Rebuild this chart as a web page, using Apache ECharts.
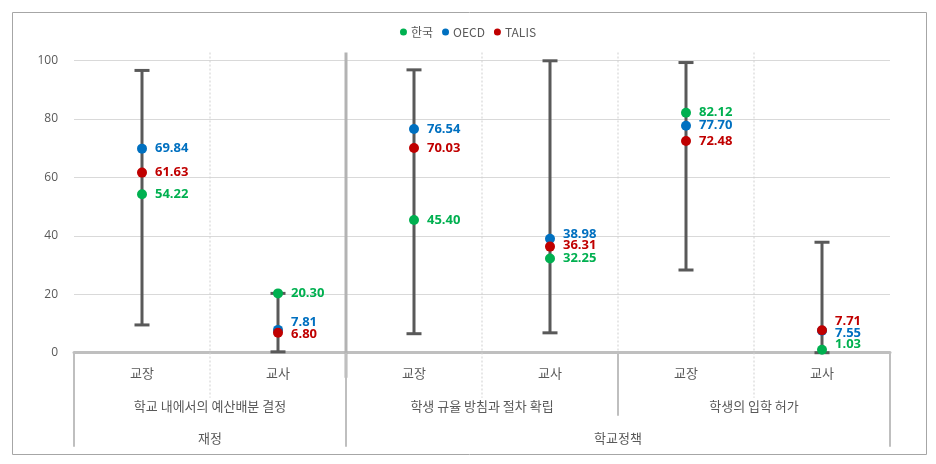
<!DOCTYPE html>
<html><head><meta charset="utf-8">
<script src="https://cdn.jsdelivr.net/npm/echarts@6/dist/echarts.min.js"></script>
<style>html,body{margin:0;padding:0;background:#fff}#c{width:936px;height:464px}</style>
</head><body><div id="c"></div>
<script>
const categories = ['교장', '교사', '교장', '교사', '교장', '교사'];
const level2Labels = ['학교 내에서의 예산배분 결정', '학생 규율 방침과 절차 확립', '학생의 입학 허가'];
const level2Span = [2, 2, 2];
const level3Labels = ['재정', '학교정책'];
const level3Span = [2, 4];
const rangeLow = [9.5, 0.3, 6.5, 6.8, 28.3, 0.0];
const rangeHigh = [96.6, 20.3, 96.8, 99.9, 99.3, 37.8];
const korea = [54.22, 20.30, 45.40, 32.25, 82.12, 1.03];
const oecd = [69.84, 7.81, 76.54, 38.98, 77.70, 7.55];
const talis = [61.63, 6.80, 70.03, 36.31, 72.48, 7.71];
const yTicks = [0, 20, 40, 60, 80, 100];

const seriesNames = ['한국', 'OECD', 'TALIS'];
const seriesColors = ['#00b050', '#0070c0', '#c00000'];
const seriesValues = [korea, oecd, talis];

const chart = echarts.init(document.getElementById('c'));
const FONT = '"Open Sans", "Noto Sans CJK KR", sans-serif';
const KFONT = '"Noto Sans CJK KR", "Open Sans", sans-serif';
const WH = '#595959';

function scatterSeries(idx, offsets) {
  return {
    name: seriesNames[idx], type: 'scatter', z: 5,
    symbol: 'circle', symbolSize: 10,
    itemStyle: { color: seriesColors[idx], opacity: 1 },
    data: seriesValues[idx].map((v, i) => ({
      value: [i, v],
      label: { offset: [0, offsets ? offsets[idx][i] : 0] }
    })),
    label: {
      show: true, position: 'right', distance: 8,
      formatter: p => p.value[1].toFixed(2),
      color: seriesColors[idx], fontFamily: FONT, fontWeight: 'bold', fontSize: 13
    },
    emphasis: { disabled: true }
  };
}

function buildOption(offsets) {
  return {
    animation: false,
    textStyle: { fontFamily: FONT },
    legend: {
      top: 21, left: 'center',
      data: seriesNames.map((n, i) => ({ name: n, icon: 'circle', itemStyle: { color: seriesColors[i] } })),
      itemWidth: 7, itemHeight: 7, itemGap: 9,
      textStyle: { color: WH, fontSize: 12, fontFamily: KFONT, padding: [0, 0, 0, -1] }
    },
    grid: { left: 74, right: 46, top: 60.5, bottom: 111.3, containLabel: false },
    xAxis: {
      type: 'category', data: categories, boundaryGap: true,
      axisLine: { show: true, lineStyle: { color: '#bfbfbf', width: 3 } },
      axisTick: { show: false },
      splitLine: { show: false },
      axisLabel: { color: WH, fontSize: 13, fontFamily: KFONT, margin: 14 }
    },
    yAxis: {
      type: 'value', min: yTicks[0], max: yTicks[yTicks.length - 1], interval: 20,
      axisLine: { show: false }, axisTick: { show: false },
      splitLine: { lineStyle: { color: '#d9d9d9', width: 1 } },
      axisLabel: { color: WH, fontSize: 12, fontFamily: FONT, margin: 16 }
    },
    series: [
      {
        type: 'custom', name: 'range', z: 3, clip: false,
        data: categories.map((c, i) => [i, rangeLow[i], rangeHigh[i]]),
        encode: { x: 0, y: [1, 2] },
        renderItem: (params, api) => {
          const x = api.value(0);
          const lo = api.coord([x, api.value(1)]);
          const hi = api.coord([x, api.value(2)]);
          const cw = 7.5;
          const st = { stroke: '#595959', lineWidth: 3 };
          return {
            type: 'group', children: [
              { type: 'line', shape: { x1: lo[0], y1: lo[1], x2: hi[0], y2: hi[1] }, style: st },
              { type: 'line', shape: { x1: hi[0] - cw, y1: hi[1], x2: hi[0] + cw, y2: hi[1] }, style: st },
              { type: 'line', shape: { x1: lo[0] - cw, y1: lo[1], x2: lo[0] + cw, y2: lo[1] }, style: st }
            ]
          };
        }
      },
      scatterSeries(0, offsets), scatterSeries(1, offsets), scatterSeries(2, offsets)
    ]
  };
}

chart.setOption(buildOption(null));

// compute label offsets to avoid overlap (per category)
const yPix = v => chart.convertToPixel({ yAxisIndex: 0 }, v);
const xPix = i => chart.convertToPixel({ xAxisIndex: 0 }, i);
const y0 = yPix(0), y100 = yPix(100);
const GAP = 11.5, BOTTOM = y0 - 8, LIFT = 3;
const offsets = seriesValues.map(() => categories.map(() => 0));
categories.forEach((c, i) => {
  let items = seriesValues.map((arr, s) => ({ s, py: yPix(arr[i]) })).sort((a, b) => a.py - b.py);
  let clusters = items.map(it => ({ members: [it], center: it.py }));
  let merged = true;
  const place = cl => {
    const n = cl.members.length;
    const start = cl.center - (n - 1) * GAP / 2 - (n > 1 ? LIFT : 0);
    cl.members.forEach((m, k) => m.ly = start + k * GAP);
  };
  clusters.forEach(place);
  while (merged) {
    merged = false;
    for (let k = 0; k < clusters.length - 1; k++) {
      const a = clusters[k], b = clusters[k + 1];
      const aLast = a.members[a.members.length - 1].ly, bFirst = b.members[0].ly;
      if (bFirst - aLast < GAP) {
        const mem = a.members.concat(b.members);
        const cen = mem.reduce((s, m) => s + m.py, 0) / mem.length;
        const ncl = { members: mem, center: cen };
        place(ncl);
        clusters.splice(k, 2, ncl);
        merged = true;
        break;
      }
    }
  }
  const all = [];
  clusters.forEach(cl => cl.members.forEach(m => all.push(m)));
  all.sort((a, b) => a.ly - b.ly);
  let limit = BOTTOM;
  for (let k = all.length - 1; k >= 0; k--) {
    if (all[k].ly > limit) all[k].ly = limit;
    limit = all[k].ly - GAP;
  }
  all.forEach(m => offsets[m.s][i] = m.ly - m.py);
});

// multi-level axis graphics
const bw = xPix(1) - xPix(0);
const bounds = [];
for (let k = 0; k <= categories.length; k++) bounds.push(xPix(0) - bw / 2 + k * bw);
const yTop = y100 - 8;
const L1B = y0 + 45, L2B = y0 + 63, L3B = y0 + 94;
const graphics = [];
const line = (x, ya, yb, w, color, dash) => graphics.push({
  type: 'line', z: 1, silent: true,
  shape: { x1: x, y1: ya, x2: x, y2: yb },
  style: { stroke: color, lineWidth: w, lineDash: dash || null }
});
const l2Bounds = [0]; level2Span.forEach(s => l2Bounds.push(l2Bounds[l2Bounds.length - 1] + s));
const l3Bounds = [0]; level3Span.forEach(s => l3Bounds.push(l3Bounds[l3Bounds.length - 1] + s));
for (let k = 0; k <= categories.length; k++) {
  const x = bounds[k];
  const isL3 = l3Bounds.includes(k), isL2 = l2Bounds.includes(k);
  if (k === 0 || k === categories.length) {
    line(x, y0, L3B, 2, '#bfbfbf');
  } else if (isL3) {
    line(x, yTop, y0 + 25, 3, '#b3b3b3');
    line(x, y0, L3B, 2, '#bfbfbf');
  } else if (isL2) {
    line(x, yTop, y0, 1, '#d0d0d0', [2, 2]);
    line(x, y0, L2B, 2, '#bfbfbf');
  } else {
    line(x, yTop, L1B, 1, '#cfcfcf', [2, 2]);
  }
}
level2Labels.forEach((t, j) => {
  const cx = (bounds[l2Bounds[j]] + bounds[l2Bounds[j + 1]]) / 2;
  graphics.push({ type: 'text', z: 10, silent: true, x: cx, y: y0 + 53,
    style: { text: t, fill: WH, font: '13px ' + KFONT, align: 'center', verticalAlign: 'middle' } });
});
level3Labels.forEach((t, j) => {
  const cx = (bounds[l3Bounds[j]] + bounds[l3Bounds[j + 1]]) / 2;
  graphics.push({ type: 'text', z: 10, silent: true, x: cx, y: y0 + 85,
    style: { text: t, fill: WH, font: '13px ' + KFONT, align: 'center', verticalAlign: 'middle' } });
});
graphics.push({ type: 'rect', z: 0, silent: true, shape: { x: 12.5, y: 12.5, width: 914, height: 442 },
  style: { fill: null, stroke: '#a6a6a6', lineWidth: 1 } });

const opt = buildOption(offsets);
opt.graphic = { elements: graphics };
chart.setOption(opt, true);
</script></body></html>
